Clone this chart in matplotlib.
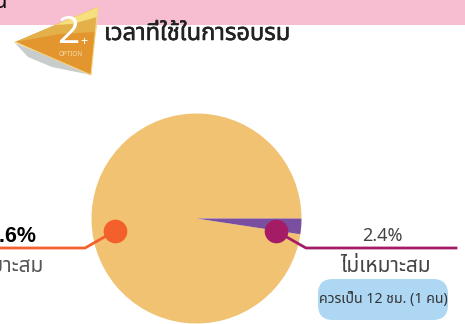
import matplotlib
matplotlib.use('Agg')
import matplotlib.pyplot as plt
import matplotlib.patheffects as pe
from matplotlib.patches import Polygon, FancyBboxPatch, Rectangle

# values
pie_labels = ['เหมาะสม', 'ไม่เหมาะสม']
pie_values = [97.6, 2.4]
pie_colors = ['#F0C272', '#7B4FA0']
value_labels = ['97.6%', '2.4%']
title_text = 'เวลาที่ใช้ในการอบรม'
note_text = 'ควรเป็น 12 ชม. (1 คน)'

W, H = 465, 324
thai_fonts = ['Noto Sans Thai', 'Tahoma', 'Loma', 'Garuda', 'Noto Sans', 'DejaVu Sans']
plt.rcParams['font.family'] = thai_fonts

fig = plt.figure(figsize=(W / 100, H / 100), dpi=100)
ax = fig.add_axes([0, 0, 1, 1])
ax.set_xlim(0, W)
ax.set_ylim(H, 0)
ax.axis('off')

# header band and emblem
ax.add_patch(Rectangle((0, 0), W, 25, color='#F7BDD0', lw=0, zorder=1))
ax.add_patch(Polygon([(15, 43), (91, 75), (52, 67), (28, 57)], color='#C9CCCC', lw=0, zorder=2))
ax.add_patch(Polygon([(15, 43), (91, 75), (60, 60), (32, 50)], color='#8E8F88', lw=0, zorder=2))
ax.add_patch(Polygon([(15, 42), (98, 7), (91, 75)], color='#E3962E', lw=0, zorder=3))
ax.add_patch(Polygon([(15, 42), (98, 7), (96, 32), (60, 34)], color='#E4B04A', lw=0, zorder=4))
ax.add_patch(Polygon([(55, 25), (98, 7), (97, 17), (72, 24)], color='#F6E07E', lw=0, zorder=5))
ax.plot([15, 91, 98], [42, 75, 7], color='#F4D98A', lw=0.8, zorder=6)
ax.text(68, 33, '2', color='white', fontsize=28, ha='center', va='center', zorder=7)
ax.text(84, 42, '+', color='white', fontsize=9, ha='center', va='center', zorder=7)
ax.text(71, 55, 'OPTION', color='#F3DDB0', fontsize=4.5, ha='center', va='center', zorder=7)

title = ax.text(104, 34, title_text, color='#222222', fontsize=17, ha='left', va='center', zorder=7)
title.set_path_effects([pe.withStroke(linewidth=0.4, foreground='#222222')])
ax.text(7, 2, 'น', color='#111111', fontsize=16, ha='right', va='center', zorder=7)

# pie in its own axes, positioned in pixels
cx, cy, r = 196.5, 218.5, 105
pie_ax = fig.add_axes([(cx - r) / W, 1 - (cy + r) / H, 2 * r / W, 2 * r / H])
pie_ax.pie(pie_values, colors=pie_colors, startangle=-3.6 * pie_values[1],
           counterclock=False, radius=1)
pie_ax.set_xlim(-1, 1)
pie_ax.set_ylim(-1, 1)

# front layer for callouts
top = fig.add_axes([0, 0, 1, 1])
top.set_xlim(0, W)
top.set_ylim(H, 0)
top.axis('off')
top.patch.set_alpha(0)

top.plot([0, 85, 115], [248, 248, 231], color='#F4602C', lw=2, zorder=2)
top.scatter([115], [231], s=290, color='#F4602C', lw=0, zorder=3)
top.text(36, 236, value_labels[0], color='black', fontsize=15.5, weight='bold',
         family=['Liberation Sans'], ha='right', va='center')
top.text(43, 266, pie_labels[0], color='#555555', fontsize=15, ha='right', va='center')

top.plot([276, 306, 456], [231, 248, 248], color='#A51C66', lw=2, zorder=2)
top.scatter([276], [231], s=290, color='#A51C66', lw=0, zorder=3)
top.text(382, 236, value_labels[1], color='#444444', fontsize=13, ha='center', va='center')
top.text(386, 266, pie_labels[1], color='#444444', fontsize=15, ha='center', va='center')

top.add_patch(FancyBboxPatch((318, 279), 130, 41, boxstyle='round,pad=0,rounding_size=15', fc='#ADD7F2', ec='none'))
top.text(383, 300, note_text, color='#333333', fontsize=10.2, ha='center', va='center')

fig.savefig('out.png', dpi=100)
